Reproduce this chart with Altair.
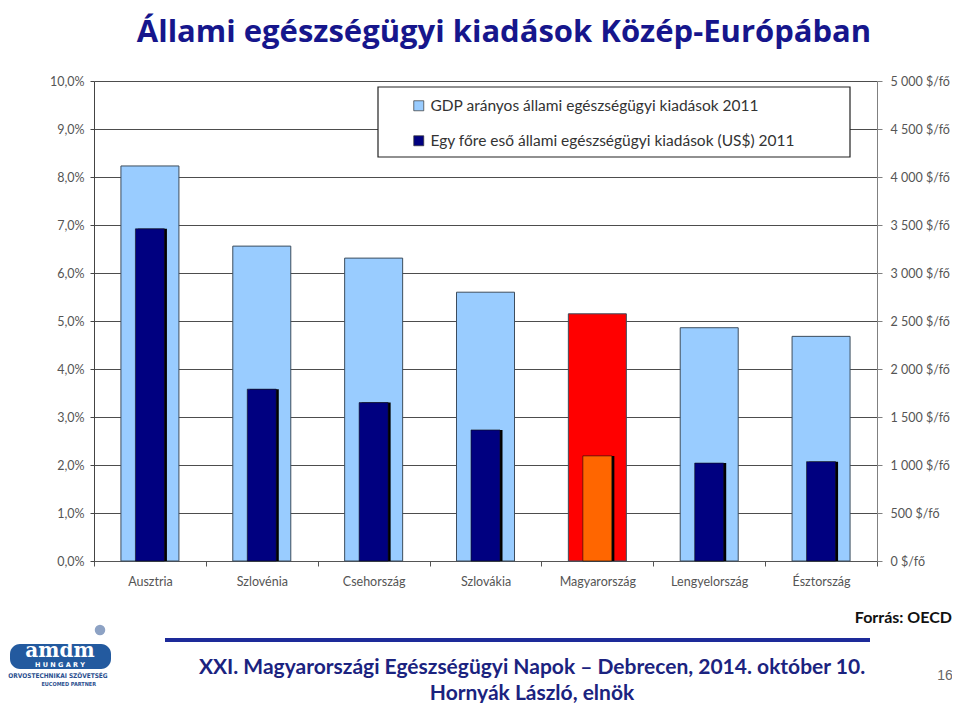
import altair as alt
import pandas as pd

# ---- data ----
ORSZAGOK = ["Ausztria", "Szlovénia", "Csehország", "Szlovákia",
            "Magyarország", "Lengyelország", "Észtország"]
GDP_ARANY = [8.23, 6.56, 6.31, 5.60, 5.15, 4.86, 4.68]          # % of GDP
EGY_FORE = [3460, 1790, 1650, 1365, 1095, 1020, 1035]            # US$ per capita
SOROZATOK = ["GDP arányos állami egészségügyi kiadások 2011",
             "Egy főre eső állami egészségügyi kiadások (US$) 2011"]
CIM = "Állami egészségügyi kiadások Közép-Európában"
FORRAS = "Forrás: OECD"
LABLEC1 = "XXI. Magyarországi Egészségügyi Napok – Debrecen, 2014. október 10."
LABLEC2 = "Hornyák László, elnök"
OLDALSZAM = "16"
KIEMELT = "Magyarország"

df = pd.DataFrame({"orszag": ORSZAGOK, "gdp": GDP_ARANY, "fore": EGY_FORE})
one = pd.DataFrame({"a": [0]})

W, H = 783, 480
FONT = "Lato"
NAVY_TXT = "#1b237f"

x_enc = alt.X("orszag:N", sort=ORSZAGOK, title=None,
              scale=alt.Scale(paddingInner=0, paddingOuter=0),
              axis=alt.Axis(labelAngle=0, labelFont=FONT, labelFontSize=12.5,
                            labelColor="#555555", domainColor="#555555",
                            tickColor="#555555", tickSize=5, tickBand="extent",
                            labelPadding=9, grid=False))

left_axis = alt.Axis(values=[0, 1, 2, 3, 4, 5, 6, 7, 8, 9, 10],
                     labelExpr="replace(format(datum.value, '.1f'), '.', ',') + '%'",
                     labelFont=FONT, labelFontSize=12.5, labelColor="#555555",
                     domainColor="#444444", tickColor="#444444", tickSize=4,
                     labelPadding=6, grid=True, gridColor="#4d4d4d",
                     gridWidth=1, title=None)
right_axis = alt.Axis(orient="right",
                      values=[0, 500, 1000, 1500, 2000, 2500, 3000, 3500, 4000, 4500, 5000],
                      labelExpr="replace(format(datum.value, ','), ',', ' ') + ' $/fő'",
                      labelFont=FONT, labelFontSize=12.5, labelColor="#555555",
                      domainColor="#808080", tickColor="#808080", tickSize=5,
                      labelPadding=8, grid=False, title=None)

is_hu = alt.datum.orszag == KIEMELT
color_scale = alt.Scale(domain=SOROZATOK, range=["#99ccff", "#000080"])
legend = alt.Legend(title=None, orient="none", legendX=317, legendY=17,
                    direction="vertical", labelFont=FONT, labelFontSize=15.5,
                    labelColor="#333333", symbolType="square", symbolSize=100,
                    symbolStrokeColor="#333333", symbolStrokeWidth=0.7,
                    rowPadding=18, labelLimit=600, padding=0)

light = alt.Chart(df).transform_calculate(
    sorozat=f"'{SOROZATOK[0]}'"
).mark_bar(size=58, stroke="#3d4d5d", strokeWidth=1).encode(
    x=x_enc,
    y=alt.Y("gdp:Q", scale=alt.Scale(domain=[0, 10], nice=False), axis=left_axis),
    color=alt.condition(is_hu, alt.value("#ff0000"),
                        alt.Color("sorozat:N", scale=color_scale, legend=legend)),
)

y_right = alt.Y("fore:Q", scale=alt.Scale(domain=[0, 5000], nice=False), axis=right_axis)

shadow = alt.Chart(df).mark_bar(size=29, xOffset=2.5, color="#000000").encode(
    x=x_enc, y=y_right)
dark = alt.Chart(df).transform_calculate(
    sorozat=f"'{SOROZATOK[1]}'"
).mark_bar(size=29, stroke="#111111", strokeWidth=0.6).encode(
    x=x_enc, y=y_right,
    color=alt.condition(is_hu, alt.value("#ff6600"),
                        alt.Color("sorozat:N", scale=color_scale, legend=legend)),
)
dark_group = alt.layer(shadow, dark)

# legend box
legend_box = alt.Chart(one).mark_rect(fill="white", stroke="#222222", strokeWidth=1.2).encode(
    x=alt.value(284), x2=alt.value(756), y=alt.value(6), y2=alt.value(76))


def txt(text, x, y, size, color, weight="normal", align="center", font=FONT, dx=0, dy=0):
    return alt.Chart(one).mark_text(
        fontSize=size, font=font, fontWeight=weight, color=color, align=align,
        baseline="alphabetic", dx=dx, dy=dy
    ).encode(x=alt.value(x), y=alt.value(y), text=alt.value(text))


TFONT = "Open Sans"
title = txt(CIM, 410, -39, 31, "#16168c", "bold", font=TFONT)

forras = txt(FORRAS, 858, 542, 16, "#111111", "bold", align="right")
rule = alt.Chart(one).mark_rule(color="#1d2a99", strokeWidth=4).encode(
    x=alt.value(71), x2=alt.value(776), y=alt.value(559))
foot1 = txt(LABLEC1, 438, 593, 21, NAVY_TXT, "bold")
foot2 = txt(LABLEC2, 438, 619, 21, NAVY_TXT, "bold")
page = txt(OLDALSZAM, 851, 599, 14, "#666666", font="Liberation Sans")

# logo (simplified)
logo_box = alt.Chart(one).mark_rect(fill="#235a9f", cornerRadius=10).encode(
    x=alt.value(-84), x2=alt.value(17), y=alt.value(563), y2=alt.value(588))
logo_ball = alt.Chart(one).mark_point(filled=True, size=110, color="#8da2c4", opacity=1).encode(
    x=alt.value(6), y=alt.value(549))
logo_t1 = txt("amdm", -34, 576, 20, "white", "bold", font="DejaVu Serif")
logo_t2 = txt("H U N G A R Y", -34, 586, 6.5, "white", "bold", font="DejaVu Sans")
logo_t3 = txt("ORVOSTECHNIKAI SZÖVETSÉG", -36, 597, 6.5, "#2b4f8f", "bold", font="DejaVu Sans Condensed")
logo_t4 = txt("EUCOMED PARTNER", 2, 605, 5.5, "#2b4f8f", "bold", align="right",
              font="DejaVu Sans Condensed")

bars = alt.layer(light, dark_group).resolve_scale(y="independent")

chart = alt.layer(
    bars, legend_box,
    title, forras, rule, foot1, foot2, page,
    logo_box, logo_ball, logo_t1, logo_t2, logo_t3, logo_t4
).properties(
    width=W, height=H,
    autosize=alt.AutoSizeParams(type="none"),
    padding={"left": 86, "top": 73, "right": 75, "bottom": 142},
    background="white",
).configure_view(stroke="transparent")

chart.save("out.html", embed_options={"renderer": "svg", "actions": False})
